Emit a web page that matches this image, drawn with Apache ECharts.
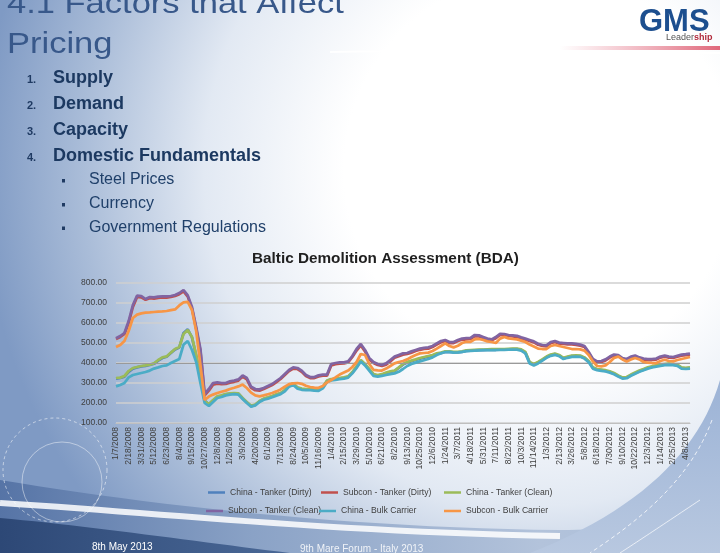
<!DOCTYPE html>
<html><head><meta charset="utf-8">
<script src="https://cdn.jsdelivr.net/npm/echarts@6/dist/echarts.min.js"></script>
<style>html,body{margin:0;padding:0;width:720px;height:553px;overflow:hidden;background:#fff}#c{width:720px;height:553px}</style>
</head><body><div id="c"></div>
<script>
const tickLabels = ['1/7/2008','2/18/2008','3/31/2008','5/12/2008','6/23/2008','8/4/2008','9/15/2008','10/27/2008','12/8/2008','1/26/2009','3/9/2009','4/20/2009','6/1/2009','7/13/2009','8/24/2009','10/5/2009','11/16/2009','1/4/2010','2/15/2010','3/29/2010','5/10/2010','6/21/2010','8/2/2010','9/13/2010','10/25/2010','12/6/2010','1/24/2011','3/7/2011','4/18/2011','5/31/2011','7/11/2011','8/22/2011','10/3/2011','11/14/2011','1/3/2012','2/13/2012','3/26/2012','5/8/2012','6/18/2012','7/30/2012','9/10/2012','10/22/2012','12/3/2012','1/14/2013','2/25/2013','4/8/2013'];
const yTicks = [100, 800, 100];
const seriesNames = ['China - Tanker (Dirty)','Subcon - Tanker (Dirty)','China - Tanker (Clean)','Subcon - Tanker (Clean)','China - Bulk Carrier','Subcon - Bulk Carrier'];
const chinaTankerDirty = [
322,325,332,356,372,378,383,386,390,396,
412,425,431,450,468,478,550,568,528,435,
335,212,193,212,230,236,243,246,248,246,
223,203,184,190,208,220,226,233,241,248,
263,288,296,276,270,268,268,266,265,278,
310,318,320,323,326,331,352,380,412,392,
367,342,337,341,349,355,359,375,392,402,
409,415,422,427,432,437,445,449,455,455,
453,453,455,460,462,463,464,464,465,466,
466,467,467,468,469,469,465,452,402,392,
402,415,429,439,444,437,423,429,434,435,
434,425,407,375,367,364,361,355,347,335,
325,327,339,349,359,367,375,381,385,389,
392,394,392,389,375,373,375];
const subconTankerDirty = [
520,530,545,600,680,730,728,716,724,722,
726,728,727,730,735,744,758,732,672,570,
460,238,262,292,297,294,295,302,306,312,
332,318,276,264,262,270,280,290,304,320,
340,360,372,370,356,335,325,325,333,337,
337,388,394,397,398,403,430,462,488,458,
418,400,390,385,392,408,426,434,442,445,
452,460,466,470,472,480,492,504,510,500,
500,510,516,518,520,534,533,525,517,513,
524,540,540,535,533,531,523,517,510,503,
491,485,483,499,505,497,495,493,493,491,
487,480,450,415,403,405,413,427,437,435,
420,415,427,432,423,417,415,415,417,427,
432,427,425,431,437,439,442];
const chinaTankerClean = [
325,327,335,360,375,380,385,388,392,398,
415,428,433,452,470,480,545,565,530,440,
330,210,195,215,233,238,245,248,250,248,
225,205,186,192,210,222,228,235,243,250,
265,290,298,278,272,270,270,268,267,280,
312,320,322,325,328,333,355,383,415,395,
370,345,340,344,352,358,362,378,395,405,
412,418,425,430,435,440,448,452,458,458,
456,456,458,463,465,466,467,467,468,469,
469,470,470,471,472,472,468,455,405,395,
405,418,432,442,447,440,426,432,437,438,
437,428,410,378,370,367,364,358,350,338,
328,330,342,352,362,370,378,384,388,392,
395,397,395,392,378,376,378];
const subconTankerClean = [
524,535,550,610,690,737,735,720,730,728,
732,733,733,735,740,750,765,738,680,580,
470,245,270,300,303,300,300,308,312,318,
338,325,282,270,268,275,285,295,310,325,
345,365,378,375,362,340,330,330,338,342,
342,395,400,403,403,408,435,470,495,465,
425,405,395,390,398,415,432,440,448,450,
458,465,472,476,478,485,498,510,515,505,
505,515,522,524,526,540,538,530,522,518,
530,546,545,540,538,536,528,522,515,508,
496,490,488,505,510,502,500,498,498,496,
492,485,455,420,408,410,418,432,442,440,
425,420,432,437,428,422,420,420,422,432,
437,432,430,436,442,444,447];
const chinaBulk = [
283,290,300,328,340,345,350,355,362,372,
378,385,388,400,410,420,492,510,465,405,
300,200,185,205,225,230,238,242,244,242,
220,200,182,188,205,216,222,229,237,244,
258,282,290,272,266,264,264,262,261,273,
305,313,316,319,322,327,348,375,408,388,
362,336,332,336,340,344,348,356,370,385,
395,402,408,414,420,428,440,449,455,456,
452,453,456,459,461,462,463,464,464,465,
465,466,466,467,467,467,462,448,398,388,
398,412,426,436,441,434,420,426,431,432,
431,422,404,372,364,361,358,352,344,332,
322,324,336,346,356,364,372,378,382,386,
389,391,389,386,372,370,372];
const subconBulk = [
480,490,510,560,625,642,648,652,653,655,
657,658,660,664,668,688,703,706,665,560,
390,215,232,242,250,256,262,270,276,283,
292,275,252,238,233,238,244,250,258,268,
282,294,298,300,296,286,280,277,276,285,
303,315,328,342,352,362,380,405,445,440,
395,366,363,362,372,385,398,405,410,418,
430,440,448,450,452,460,472,485,498,485,
478,486,500,506,506,518,520,515,508,505,
500,522,530,523,520,518,512,505,492,482,
472,470,470,485,490,485,480,475,470,470,
468,462,440,408,385,383,388,405,425,432,
418,408,418,425,418,405,402,400,400,410,
416,410,408,415,420,425,430];

const categories = [];
tickLabels.forEach(l => { categories.push(l, '', ''); });
categories.length = chinaTankerDirty.length;

const colors = ['#4F81BD','#C0504D','#9BBB59','#8064A2','#4BACC6','#F79646'];
const seriesData = [chinaTankerDirty, subconTankerDirty, chinaTankerClean, subconTankerClean, chinaBulk, subconBulk];
const FF = 'Liberation Sans, Arial, sans-serif';
const G = echarts.graphic;

const legendPos = [[208,488],[321,488],[444,488],[206,506.5],[319,506.5],[444,506.5]];

// decorative background curves (cubic bezier sampled to points)
function bez(p0,p1,p2,p3){
  const pts=[]; for(let i=0;i<=24;i++){const t=i/24,u=1-t;
    pts.push([u*u*u*p0[0]+3*u*u*t*p1[0]+3*u*t*t*p2[0]+t*t*t*p3[0], u*u*u*p0[1]+3*u*u*t*p1[1]+3*u*t*t*p2[1]+t*t*t*p3[1]]);}
  return pts;
}
const chart = echarts.init(document.getElementById('c'), null, {renderer:'canvas'});
const bgElems = [
  {type:'rect', z:-10, shape:{x:0,y:0,width:720,height:553},
   style:{fill:new G.RadialGradient(540,170,560,[
     {offset:0,color:'#ffffff'},{offset:0.35,color:'#ffffff'},{offset:0.6,color:'#e2e9f3'},
     {offset:0.82,color:'#a9bcd8'},{offset:1,color:'#7f9ac4'}],true)}},
  {type:'polyline', z:-9, shape:{points:bez([330,52],[450,50],[600,52],[720,53])},
   style:{stroke:'rgba(255,255,255,0.9)', lineWidth:2}},
  {type:'polygon', z:-9, shape:{points:bez([0,480],[150,505],[350,528],[560,530]).concat(bez([560,530],[630,530],[690,520],[720,505])).concat([[720,553],[0,553]])},
   style:{fill:new G.LinearGradient(0,0,1,0,[{offset:0,color:'#5674a6'},{offset:0.35,color:'#8aa2c6'},{offset:0.75,color:'#b3c3db'},{offset:1,color:'#a6bbd9'}])}},
  {type:'polygon', z:-8, shape:{points:bez([720,380],[700,450],[640,510],[530,553]).concat([[720,553]])},
   style:{fill:new G.LinearGradient(0,0,0,1,[{offset:0,color:'#9cb3d6'},{offset:1,color:'#b8c8e0'}])}},
  {type:'polyline', z:-7, shape:{points:bez([0,503],[150,512],[330,532],[560,536])},
   style:{stroke:'rgba(255,255,255,0.85)', lineWidth:6}},
  {type:'polygon', z:-7, shape:{points:bez([0,518],[90,526],[200,542],[290,553]).concat([[0,553]])},
   style:{fill:new G.LinearGradient(0,0,1,0,[{offset:0,color:'#2d4876'},{offset:1,color:'#4a6896'}])}},
  {type:'polyline', z:-6, shape:{points:bez([712,420],[690,480],[640,520],[590,553])},
   style:{stroke:'rgba(255,255,255,0.8)', lineWidth:1, lineDash:[4,3]}},
  {type:'polyline', z:-6, shape:{points:bez([700,500],[670,520],[640,540],[620,553])},
   style:{stroke:'rgba(255,255,255,0.7)', lineWidth:1}},
  {type:'circle', z:-6, shape:{cx:55,cy:470,r:52},
   style:{fill:null, stroke:'rgba(255,255,255,0.55)', lineWidth:1, lineDash:[3,3]}},
  {type:'circle', z:-6, shape:{cx:62,cy:482,r:40},
   style:{fill:null, stroke:'rgba(255,255,255,0.45)', lineWidth:1}},
  {type:'rect', z:-5, shape:{x:560,y:46,width:160,height:4},
   style:{fill:new G.LinearGradient(0,0,1,0,[{offset:0,color:'rgba(230,120,140,0)'},{offset:1,color:'rgba(222,95,115,0.95)'}])}}
];
const txt = (t, x, y, o) => Object.assign({type:'text', x:x, y:y, z:5,
  style:Object.assign({text:t, fontFamily:FF, verticalAlign:'middle', align:'left'}, o)});
const mainItems = ['Supply','Demand','Capacity','Domestic Fundamentals'];
const subItems = ['Steel Prices','Currency','Government Regulations'];
const textElems = [
  Object.assign(txt('4.1 Factors that Affect', 7, 5, {fontSize:30, fill:'#38588a'}), {scaleX:1.15}),
  Object.assign(txt('Pricing', 7, 45, {fontSize:30, fill:'#38588a'}), {scaleX:1.15})
];
mainItems.forEach((t,i)=>{
  textElems.push(txt((i+1)+'.', 27, 80+26*i, {fontSize:11, fontWeight:'bold', fill:'#1f3a62'}));
  textElems.push(txt(t, 53, 78+26*i, {fontSize:18, fontWeight:'bold', fill:'#1c3961'}));
});
subItems.forEach((t,i)=>{
  const yy = [180,204,227.5][i];
  textElems.push({type:'rect', z:5, shape:{x:62,y:yy-1,width:3,height:3.5}, style:{fill:'#1f3a62'}});
  textElems.push(txt(t, 89, yy, {fontSize:16, fill:'#20406a'}));
});
textElems.push(txt('GMS', 639, 22, {fontSize:31, fontWeight:'bold', fill:'#1d4f8f'}));
textElems.push(txt('{a|Leader}{b|ship}', 666, 38, {rich:{a:{fontSize:9, fill:'#555555', fontFamily:FF}, b:{fontSize:9, fontWeight:'bold', fill:'#b12a3c', fontFamily:FF}}}));
textElems.push(txt('8th May 2013', 92, 547, {fontSize:10, fill:'#ffffff'}));
textElems.push(txt('9th Mare Forum - Italy 2013', 300, 549, {fontSize:10, fill:'rgba(255,255,255,0.85)'}));

const option = {
  animation:false,
  backgroundColor:'transparent',
  title:{text:'Baltic Demolition Assessment (BDA)', left:252, top:251, padding:0,
    textStyle:{fontFamily:FF, fontSize:15.3, fontWeight:'bold', color:'#1f1f1f'}},
  graphic:{elements:bgElems.concat(textElems)},
  legend:seriesNames.map((n,i)=>({data:[n], left:legendPos[i][0], top:legendPos[i][1], padding:0,
    icon:'rect', itemWidth:17, itemHeight:2.5, selectedMode:false,
    textStyle:{fontFamily:FF, fontSize:8.6, color:'#404040'}})),
  grid:{left:116, right:30, top:283, bottom:130},
  xAxis:{type:'category', data:categories, boundaryGap:false,
    axisLine:{show:true, lineStyle:{color:'#bfbfbf', width:1}},
    axisTick:{show:false},
    axisLabel:{interval:2, rotate:90, margin:4, fontFamily:FF, fontSize:8.5, color:'#404040'},
    splitLine:{show:false}},
  yAxis:{type:'value', min:yTicks[0], max:yTicks[1], interval:yTicks[2],
    axisLine:{show:false}, axisTick:{show:false},
    axisLabel:{margin:9, fontFamily:FF, fontSize:8.5, color:'#404040', formatter:v=>v.toFixed(2)},
    splitLine:{lineStyle:{color:'#cfcfcf', width:1.5}}},
  series:seriesNames.map((n,i)=>{
    const s = {name:n, type:'line', data:seriesData[i], symbol:'none', showSymbol:false,
      lineStyle:{color:colors[i], width:2.75}, itemStyle:{color:colors[i]}, z:2+i};
    if(i===0){ s.markLine = {silent:true, symbol:'none', label:{show:false},
      lineStyle:{color:'#9a9a9a', width:1, type:'solid'}, data:[{yAxis:400}]}; }
    return s;
  })
};
chart.setOption(option);
</script></body></html>
